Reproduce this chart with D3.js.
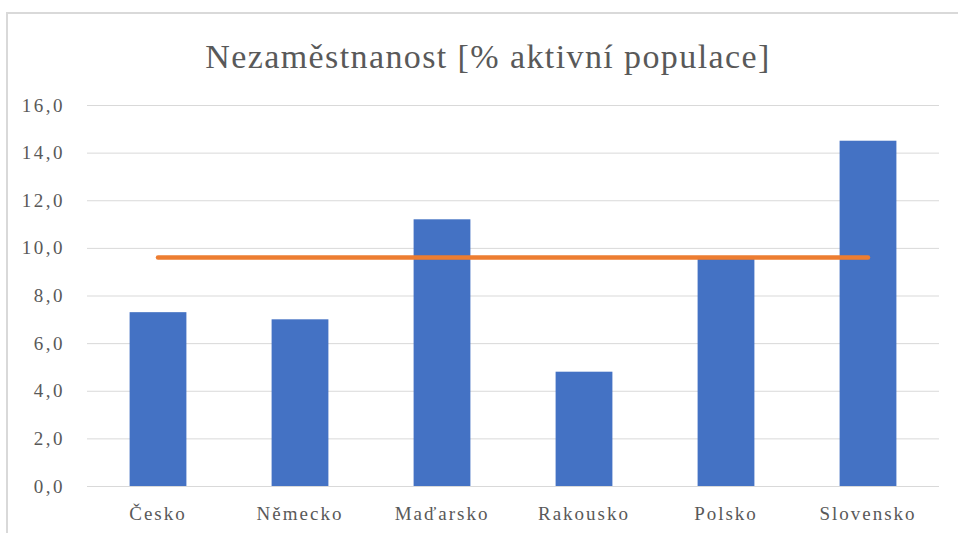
<!DOCTYPE html>
<html>
<head>
<meta charset="utf-8">
<script src="https://cdn.jsdelivr.net/npm/d3@7"></script>
<style>
  body { margin: 0; background: #fff; }
  svg { display: block; }
  .serif { font-family: "Times New Roman", "Liberation Serif", "DejaVu Serif", serif; }
</style>
</head>
<body>
<div id="chart"></div>
<script>
// data
var countries = ["Česko", "Německo", "Maďarsko", "Rakousko", "Polsko", "Slovensko"];
var unemployment = [7.3, 7.0, 11.2, 4.8, 9.6, 14.5];
var average = [9.6, 9.6, 9.6, 9.6, 9.6, 9.6];
var yTicks = [0, 2, 4, 6, 8, 10, 12, 14, 16];
var title = "Nezaměstnanost [% aktivní populace]";

var W = 958, H = 533;
var margin = {top: 105, right: 19, bottom: 47, left: 87};

var svg = d3.select("#chart").append("svg")
    .attr("width", W)
    .attr("height", H);

// chart frame
svg.append("rect")
    .attr("x", 7).attr("y", 13)
    .attr("width", W + 10).attr("height", H + 10)
    .attr("fill", "#fff")
    .attr("stroke", "#d9d9d9")
    .attr("stroke-width", 2);

var x = d3.scaleBand()
    .domain(countries)
    .range([margin.left, W - margin.right])
    .paddingInner(0.6)
    .paddingOuter(0.3);

var y = d3.scaleLinear()
    .domain([0, 16])
    .range([H - margin.bottom, margin.top]);

var fmt = function(d) { return d3.format(".1f")(d).replace(".", ","); };

// gridlines + y labels
var yAxis = d3.axisLeft(y)
    .tickValues(yTicks)
    .tickFormat(fmt)
    .tickSize(-(W - margin.right - margin.left))
    .tickPadding(22);

var gy = svg.append("g")
    .attr("transform", "translate(" + margin.left + ",0)")
    .call(yAxis);
gy.attr("font-family", null);
gy.select(".domain").remove();
gy.selectAll(".tick line").attr("stroke", "#d9d9d9").attr("stroke-width", 1);
gy.selectAll(".tick text")
    .attr("class", "serif")
    .attr("fill", "#595959")
    .style("font-size", "19px")
    .style("letter-spacing", "2.5px");

// bars
svg.append("g")
    .selectAll("rect")
    .data(unemployment)
    .enter()
    .append("rect")
    .attr("x", function(d, i) { return x(countries[i]); })
    .attr("y", function(d) { return y(d); })
    .attr("width", x.bandwidth())
    .attr("height", function(d) { return y(0) - y(d); })
    .attr("fill", "#4472c4");

// average line
var line = d3.line()
    .x(function(d, i) { return x(countries[i]) + x.bandwidth() / 2; })
    .y(function(d) { return y(d); });

svg.append("path")
    .datum(average)
    .attr("d", line)
    .attr("fill", "none")
    .attr("stroke", "#ed7d31")
    .attr("stroke-width", 4.5)
    .attr("stroke-linecap", "round");

// x labels
var xAxis = d3.axisBottom(x).tickSize(0).tickPadding(21);
var gx = svg.append("g")
    .attr("transform", "translate(0," + y(0) + ")")
    .call(xAxis);
gx.attr("font-family", null);
gx.select(".domain").remove();
gx.selectAll(".tick text")
    .attr("class", "serif")
    .attr("fill", "#595959")
    .style("font-size", "19px")
    .style("letter-spacing", "2px");

// title
svg.append("text")
    .attr("class", "serif")
    .attr("x", 488)
    .attr("y", 68)
    .attr("text-anchor", "middle")
    .attr("fill", "#595959")
    .style("font-size", "34px")
    .style("letter-spacing", "1.4px")
    .text(title);
</script>
</body>
</html>
